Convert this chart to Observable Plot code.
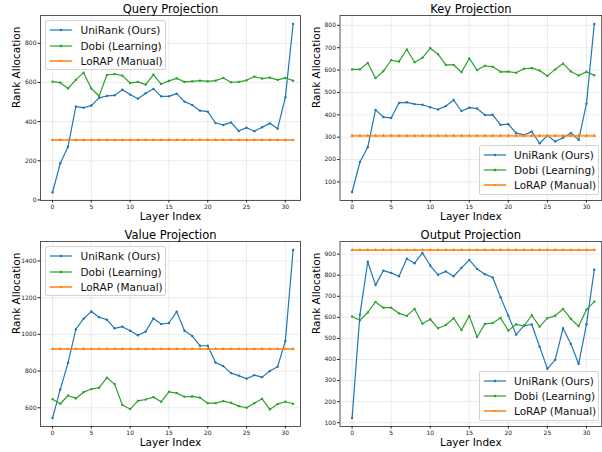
<!DOCTYPE html>
<html><head><meta charset="utf-8">
<script src="https://cdn.jsdelivr.net/npm/d3@7"></script>
<script src="https://cdn.jsdelivr.net/npm/@observablehq/plot@0.6"></script>
<style>
body{margin:0;background:#fff;font-family:"DejaVu Sans",sans-serif;}
#fig{position:relative;width:602px;height:452px;overflow:hidden;background:#fff;}
.panel{position:absolute;}
.legend{position:absolute;border:1px solid #d3d3d3;border-radius:2px;background:rgba(255,255,255,0.85);box-sizing:border-box;}
.legend .row{position:absolute;left:0;height:14px;width:100%;}
.legend .row svg{position:absolute;left:0;top:0;}
.legend .row span{position:absolute;left:34.5px;top:0;line-height:14px;font-size:10.5px;color:#111;white-space:nowrap;font-family:"DejaVu Sans",sans-serif;}
</style></head>
<body>
<div id="fig"></div>
<script>
const layers = [0,1,2,3,4,5,6,7,8,9,10,11,12,13,14,15,16,17,18,19,20,21,22,23,24,25,26,27,28,29,30,31];
const xTicks = [0,5,10,15,20,25,30];
const seriesNames = ["UniRank (Ours)", "Dobi (Learning)", "LoRAP (Manual)"];
const seriesColors = ["#1f77b4", "#2ca02c", "#ff7f0e"];

const queryUni = [39,187,272,477,471,482,521,531,534,563,538,517,545,567,529,529,543,502,485,456,451,393,383,396,352,369,351,371,391,364,524,899];
const queryDobi = [604,599,569,613,650,569,531,638,643,635,597,603,589,640,592,608,621,603,606,609,606,609,623,601,603,611,630,620,625,613,623,609];
const queryLorap = [306,306,306,306,306,306,306,306,306,306,306,306,306,306,306,306,306,306,306,306,306,306,306,306,306,306,306,306,306,306,306,306];

const keyUni = [55,189,255,422,390,386,453,456,448,445,434,424,439,466,417,432,428,399,400,355,358,318,310,325,273,307,281,297,319,288,450,806];
const keyDobi = [603,603,632,564,595,644,638,692,635,655,698,671,623,623,591,652,600,619,615,592,593,588,606,609,598,574,603,629,594,576,592,577];
const keyLorap = [307,307,307,307,307,307,307,307,307,307,307,307,307,307,307,307,307,307,307,307,307,307,307,307,307,307,307,307,307,307,307,307];

const valueUni = [544,700,845,1027,1085,1125,1093,1080,1033,1042,1020,995,1015,1087,1056,1062,1124,1020,991,938,938,847,827,789,775,758,778,767,800,824,964,1460];
const valueDobi = [647,622,667,651,685,702,709,764,729,615,593,638,645,658,633,687,680,660,662,655,625,625,636,627,609,600,625,649,591,620,633,622];
const valueLorap = [920,920,920,920,920,920,920,920,920,920,920,920,920,920,920,920,920,920,920,920,920,920,920,920,920,920,920,920,920,920,920,920];

const outputUni = [122,613,864,753,822,811,795,878,857,906,846,802,818,795,835,873,830,805,789,696,608,518,561,566,461,356,399,548,474,379,567,826];
const outputDobi = [604,586,623,673,646,646,619,607,640,570,591,548,564,596,540,607,507,569,573,597,537,567,559,610,556,596,608,640,593,558,637,675];
const outputLorap = [920,920,920,920,920,920,920,920,920,920,920,920,920,920,920,920,920,920,920,920,920,920,920,920,920,920,920,920,920,920,920,920];

const queryTicks = [0,200,400,600,800];
const keyTicks = [100,200,300,400,500,600,700,800];
const valueTicks = [600,800,1000,1200,1400];
const outputTicks = [100,200,300,400,500,600,700,800,900];

const panels = [
  {title:"Query Projection", series:[queryUni,queryDobi,queryLorap], yDomain:[-3,942], yTicks:queryTicks,
   left:0, top:0, width:301, ml:40, mr:1, legend:{left:45, top:20, width:121, height:50}},
  {title:"Key Projection", series:[keyUni,keyDobi,keyLorap], yDomain:[17,844], yTicks:keyTicks,
   left:300, top:0, width:302, ml:39.5, mr:0.8, legend:{left:478.5, top:144.5, width:120, height:50.5}},
  {title:"Value Projection", series:[valueUni,valueDobi,valueLorap], yDomain:[498,1506], yTicks:valueTicks,
   left:0, top:226, width:301, ml:40, mr:1, legend:{left:45, top:246, width:121, height:50}},
  {title:"Output Projection", series:[outputUni,outputDobi,outputLorap], yDomain:[82,960], yTicks:outputTicks,
   left:300, top:226, width:302, ml:39.5, mr:0.8, legend:{left:478.5, top:370.5, width:120, height:50.5}}
];

const fig = document.getElementById("fig");
const plain = d => String(d);

for (const p of panels) {
  const rows = [];
  p.series.forEach((vals, si) => {
    layers.forEach((l, i) => rows.push({layer: l, value: vals[i], series: seriesNames[si]}));
  });
  const bySeries = s => rows.filter(r => r.series === s);
  const lineMarks = [];
  seriesNames.forEach((s, si) => {
    const d = bySeries(s);
    if (si === 2) {
      lineMarks.push(Plot.line(d, {x:"layer", y:"value", stroke:seriesColors[si], strokeWidth:2, strokeOpacity:0.75}));
      lineMarks.push(Plot.dot(d, {x:"layer", y:"value", fill:seriesColors[si], r:1.3, symbol:"triangle", stroke:null}));
    } else {
      lineMarks.push(Plot.line(d, {x:"layer", y:"value", stroke:seriesColors[si], strokeWidth:1.2}));
      lineMarks.push(Plot.dot(d, {x:"layer", y:"value", fill:seriesColors[si], r:1.2, symbol: si === 1 ? "square" : "circle", stroke:null}));
    }
  });
  const chart = Plot.plot({
    width: p.width, height: 226,
    marginLeft: p.ml, marginRight: p.mr, marginTop: 15, marginBottom: 26,
    style: {fontFamily: "DejaVu Sans, sans-serif", fontSize: "6px", background: "transparent", overflow: "visible", color:"#222"},
    x: {domain: [-1.55, 31.95]},
    y: {domain: p.yDomain},
    marks: [
      Plot.gridX(xTicks, {stroke:"#cfcfcf", strokeOpacity:0.6, strokeWidth:0.7}),
      Plot.gridY(p.yTicks, {stroke:"#cfcfcf", strokeOpacity:0.6, strokeWidth:0.7}),
      ...lineMarks,
      Plot.frame({stroke:"#444", strokeWidth:0.9}),
      Plot.axisX(xTicks, {tickSize:2.5, tickPadding:1.5, label:null, fontSize:6, tickFormat:plain}),
      Plot.axisY(p.yTicks, {tickSize:2.5, tickPadding:1.5, label:null, fontSize:6, tickFormat:plain}),
      Plot.text([p.title], {text:d=>d, frameAnchor:"top", lineAnchor:"bottom", dy:-3, fontSize:11.5, fill:"#000"}),
      Plot.text(["Layer Index"], {text:d=>d, frameAnchor:"bottom", lineAnchor:"middle", dy:16, fontSize:10.5, fill:"#000"}),
      Plot.text(["Rank Allocation"], {text:d=>d, frameAnchor:"left", lineAnchor:"middle", dx:-(p.ml - 16.5), rotate:-90, fontSize:10.5, fill:"#000"})
    ]
  });
  const wrap = document.createElement("div");
  wrap.className = "panel";
  wrap.style.left = p.left + "px";
  wrap.style.top = p.top + "px";
  wrap.appendChild(chart);
  fig.appendChild(wrap);

  const lg = document.createElement("div");
  lg.className = "legend";
  Object.assign(lg.style, {left:p.legend.left+"px", top:p.legend.top+"px", width:p.legend.width+"px", height:p.legend.height+"px"});
  const rowCenters = [9.3, 24.6, 39.9];
  seriesNames.forEach((s, si) => {
    const row = document.createElement("div");
    row.className = "row";
    row.style.top = (rowCenters[si] - 7) + "px";
    const sw = si === 2 ? 2 : 1.2;
    const op = si === 2 ? 0.75 : 1;
    const marker = si === 1
      ? `<rect x="13.8" y="5.8" width="2.4" height="2.4" fill="${seriesColors[si]}"/>`
      : si === 2
        ? `<path d="M15,5.5 L16.4,8 L13.6,8 Z" fill="${seriesColors[si]}"/>`
        : `<circle cx="15" cy="7" r="1.2" fill="${seriesColors[si]}"/>`;
    row.innerHTML = `<svg width="30" height="14"><line x1="3.8" x2="26.2" y1="7" y2="7" stroke="${seriesColors[si]}" stroke-width="${sw}" stroke-opacity="${op}"/>${marker}</svg><span>${s}</span>`;
    lg.appendChild(row);
  });
  fig.appendChild(lg);
}
</script>
</body></html>
